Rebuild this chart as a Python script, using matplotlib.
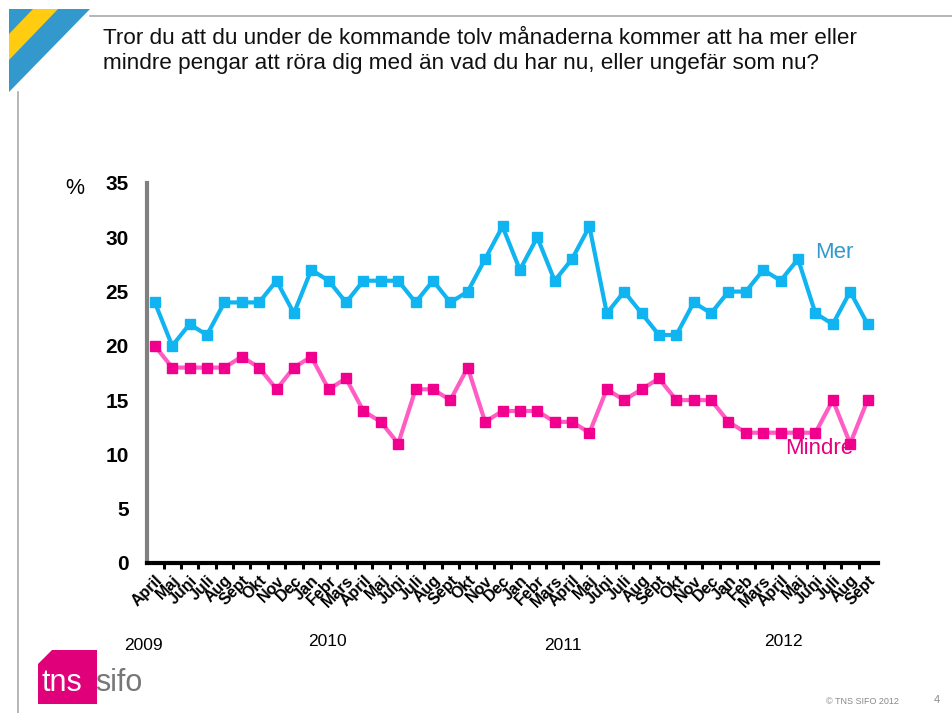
import numpy as np
import matplotlib
matplotlib.use("Agg")
import matplotlib.pyplot as plt
from matplotlib.patches import Polygon

plt.rcParams['font.family'] = ['Liberation Sans', 'DejaVu Sans']

# month labels, April 2009 - Sept 2012
months = ['April', 'Maj', 'Juni', 'Juli', 'Aug', 'Sept', 'Okt', 'Nov', 'Dec',
          'Jan', 'Febr', 'Mars', 'April', 'Maj', 'Juni', 'Juli', 'Aug', 'Sept', 'Okt', 'Nov', 'Dec',
          'Jan', 'Febr', 'Mars', 'April', 'Maj', 'Juni', 'Juli', 'Aug', 'Sept', 'Okt', 'Nov', 'Dec',
          'Jan', 'Feb', 'Mars', 'April', 'Maj', 'Juni', 'Juli', 'Aug', 'Sept']
mer = [24, 20, 22, 21, 24, 24, 24, 26, 23, 27, 26, 24, 26, 26, 26, 24, 26, 24, 25, 28, 31,
       27, 30, 26, 28, 31, 23, 25, 23, 21, 21, 24, 23, 25, 25, 27, 26, 28, 23, 22, 25, 22]
mindre = [20, 18, 18, 18, 18, 19, 18, 16, 18, 19, 16, 17, 14, 13, 11, 16, 16, 15, 18, 13, 14,
          14, 14, 13, 13, 12, 16, 15, 16, 17, 15, 15, 15, 13, 12, 12, 12, 12, 12, 15, 11, 15]
years = ['2009', '2010', '2011', '2012']

fig = plt.figure(figsize=(9.52, 7.13), dpi=100)

# slide decoration: corner stripes and frame lines
W, H = 952, 713
def px(x, y):
    return (x / W, 1 - y / H)

fig.patches.append(Polygon([px(9, 9), px(90, 9), px(9, 92)], closed=True,
                           transform=fig.transFigure, facecolor='#3399CC', edgecolor='none'))
fig.patches.append(Polygon([px(33, 9), px(58, 9), px(9, 60), px(9, 34)], closed=True,
                           transform=fig.transFigure, facecolor='#FFCC11', edgecolor='none'))
fig.lines.append(plt.Line2D([90 / W, 1], [1 - 16 / H] * 2, transform=fig.transFigure,
                            color='#AAAAAA', lw=1.2))
fig.lines.append(plt.Line2D([18 / W] * 2, [1 - 92 / H, 0], transform=fig.transFigure,
                            color='#AAAAAA', lw=1.2))

fig.text(103 / W, 1 - 51 / H,
         'Tror du att du under de kommande tolv månaderna kommer att ha mer eller\n'
         'mindre pengar att röra dig med än vad du har nu, eller ungefär som nu?',
         fontsize=16.2, va='center', ha='left', linespacing=1.2, color='#111111')

ax = fig.add_axes([147 / W, 1 - 563 / H, (878 - 147) / W, (563 - 183) / H])
x = np.arange(len(months))
ax.plot(x, mer, color='#10B4F0', lw=3, marker='s', ms=7, mfc='#10B4F0', mec='#10B4F0')
ax.plot(x, mindre, color='#FF5CC4', lw=3, marker='s', ms=7, mfc='#F0008C', mec='#F0008C')

ax.set_xlim(-0.45, len(months) - 0.4)
ax.set_ylim(0, 35)
ax.set_yticks(range(0, 36, 5))
ax.tick_params(axis='y', length=0, pad=13, labelsize=15)
for lab in ax.get_yticklabels():
    lab.set_fontweight('bold')
ax.set_xticks(x)
ax.set_xticklabels(months, rotation=45, ha='right', rotation_mode='anchor',
                   fontsize=11.5, fontweight='bold')
ax.tick_params(axis='x', which='major', length=0, pad=7)
ax.set_xticks(x[:-1] + 0.5, minor=True)
ax.tick_params(axis='x', which='minor', length=4, width=2.2, color='black')

for s in ['top', 'right']:
    ax.spines[s].set_visible(False)
ax.spines['left'].set_color('#808080')
ax.spines['left'].set_linewidth(3)
ax.spines['bottom'].set_color('black')
ax.spines['bottom'].set_linewidth(3)

fig.text(75 / W, 1 - 188 / H, '%', fontsize=15.5, ha='center', va='center')

ax.text(39.1, 28.6, 'Mer', color='#3399CC', fontsize=16, ha='center', va='center')
ax.text(38.2, 10.5, 'Mindre', color='#E6007E', fontsize=16, ha='center', va='center')

# year labels
for yr, (xp, yp) in zip(years, [(143, 645), (327, 641), (563, 645), (783, 641)]):
    fig.text(xp / W, 1 - yp / H, yr, fontsize=12.5, ha='center', va='center')

# tns sifo logo
fig.patches.append(Polygon([px(52, 650), px(97, 650), px(97, 704), px(38, 704), px(38, 664)],
                           closed=True, transform=fig.transFigure,
                           facecolor='#E0007A', edgecolor='none'))
fig.text(41 / W, 1 - 683 / H, 'tns', color='white', fontsize=22, ha='left', va='center')
fig.text(95 / W, 1 - 683 / H, 'sifo', color='#777777', fontsize=22, ha='left', va='center')

fig.text(862 / W, 1 - 701 / H, '© TNS SIFO 2012', color='#888888', fontsize=6.5,
         ha='center', va='center')
fig.text(937 / W, 1 - 700 / H, '4', color='#888888', fontsize=8, ha='center', va='center')

fig.savefig('out.png', dpi=100)
